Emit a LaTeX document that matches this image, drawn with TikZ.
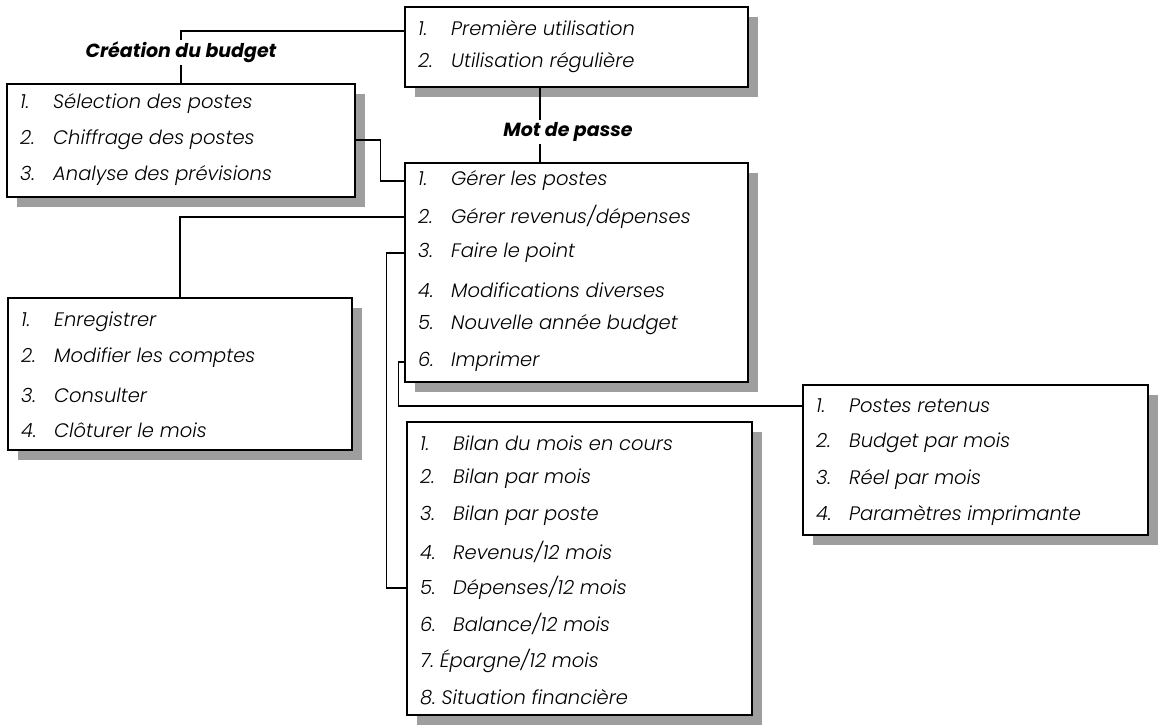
\documentclass[tikz,border=0pt]{standalone}
\usepackage{fontspec}
\setmainfont{Poppins}[UprightFont={* Light}, ItalicFont={* Light Italic}, BoldFont={* Bold}, BoldItalicFont={* Bold Italic}]
\usetikzlibrary{shadows}
\newcommand\itemnum[1]{\makebox[33pt][l]{#1}}
\begin{document}
\begin{tikzpicture}[x=1pt,y=-1pt,
  box/.style={draw, line width=1.6pt, fill=white, inner sep=0pt,
    drop shadow={shadow xshift=10pt, shadow yshift=-10pt, fill=black!38, opacity=1}},
  item/.style={anchor=west, inner sep=0pt, font=\fontsize{19.5}{21}\selectfont\itshape},
  title/.style={fill=white, inner sep=2pt, font=\fontsize{19}{20}\selectfont\bfseries\itshape},
  link/.style={line width=1.2pt}]
\useasboundingbox (0,0) rectangle (1161,726);
% boxes
\node[box, minimum width=343pt, minimum height=80pt] (util) at (576.5,47){};
\node[box, minimum width=348pt, minimum height=113pt] (cre) at (181,140.5){};
\node[box, minimum width=343pt, minimum height=219pt] (main) at (576.5,272.5){};
\node[box, minimum width=344pt, minimum height=152pt] (enr) at (180,374){};
\node[box, minimum width=345pt, minimum height=150pt] (postes) at (975.5,460){};
\node[box, minimum width=345pt, minimum height=293pt] (bilan) at (579.5,568.5){};
% items
\node[item] (u1) at (418,28){\itemnum{1.}Première utilisation};
\node[item] (u2) at (418,63){\itemnum{2.}Utilisation régulière};
\node[item] (c1) at (20,104){\itemnum{1.}Sélection des postes};
\node[item] (c2) at (20,140){\itemnum{2.}Chiffrage des postes};
\node[item] (c3) at (20,176){\itemnum{3.}Analyse des prévisions};
\node[item] (m1) at (418,181){\itemnum{1.}Gérer les postes};
\node[item] (m2) at (418,217){\itemnum{2.}Gérer revenus/dépenses};
\node[item] (m3) at (418,253){\itemnum{3.}Faire le point};
\node[item] (m4) at (418,290){\itemnum{4.}Modifications diverses};
\node[item] (m5) at (418,325){\itemnum{5.}Nouvelle année budget};
\node[item] (m6) at (418,362){\itemnum{6.}Imprimer};
\node[item] (e1) at (21,322){\itemnum{1.}Enregistrer};
\node[item] (e2) at (21,358){\itemnum{2.}Modifier les comptes};
\node[item] (e3) at (21,395){\itemnum{3.}Consulter};
\node[item] (e4) at (21,430){\itemnum{4.}Clôturer le mois};
\node[item] (p1) at (816,406){\itemnum{1.}Postes retenus};
\node[item] (p2) at (816,443){\itemnum{2.}Budget par mois};
\node[item] (p3) at (816,479){\itemnum{3.}Réel par mois};
\node[item] (p4) at (816,515){\itemnum{4.}Paramètres imprimante};
\node[item] (b1) at (420,443){\itemnum{1.}Bilan du mois en cours};
\node[item] (b2) at (420,479){\itemnum{2.}Bilan par mois};
\node[item] (b3) at (420,516){\itemnum{3.}Bilan par poste};
\node[item] (b4) at (420,552){\itemnum{4.}Revenus/12 mois};
\node[item] (b5) at (420,588){\itemnum{5.}Dépenses/12 mois};
\node[item] (b6) at (420,624){\itemnum{6.}Balance/12 mois};
\node[item] (b7) at (420,661){7.~Épargne/12 mois};
\node[item] (b8) at (420,697){8.~Situation financière};
% links
\coordinate (mdp) at (540,0);
\draw[link] (util.west |- 0,31) -| (cre.north);
\draw[link] (util.south -| mdp) -- (main.north -| mdp);
\draw[link] (c2 -| cre.east) -- ++(25,0) |- (m1 -| main.west);
\draw[link] (m2 -| main.west) -| (enr.north);
\draw[link] (m3 -| main.west) -- ++(-18,0) |- (b5 -| bilan.west);
\draw[link] (m6 -| main.west) -- ++(-6,0) |- (p1 -| postes.west);
% titles
\node[title] (crelbl) at (181,52){Création du budget};
\node[title] (mdplbl) at (568,132){Mot de passe};
\end{tikzpicture}
\end{document}
